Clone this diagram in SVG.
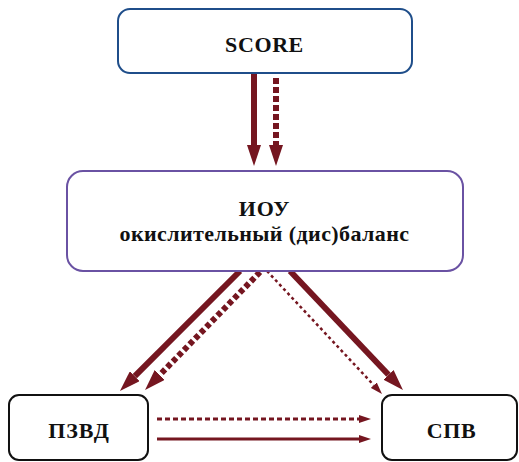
<svg xmlns="http://www.w3.org/2000/svg" width="519" height="462" viewBox="0 0 519 462">
<style>
.box{fill:#fff;stroke-width:2}
.t{font-family:"Liberation Serif","Times New Roman",serif;font-weight:bold;fill:#111;text-anchor:middle}
.c{fill:none;stroke:#751620}
</style>
<defs>
<marker id="big" viewBox="0 -7 21 14" markerUnits="userSpaceOnUse" markerWidth="21" markerHeight="14" refX="0" refY="0" orient="auto">
<path d="M0,-7 L21,0 L0,7 z" fill="#751620"/>
</marker>
<marker id="small" viewBox="0 -4 12 8" markerUnits="userSpaceOnUse" markerWidth="12" markerHeight="8" refX="0" refY="0" orient="auto">
<path d="M0,-4 L12,0 L0,4 z" fill="#751620"/>
</marker>
</defs>
<rect width="519" height="462" fill="#fff"/>
<g id="connectors">
<line class="c" x1="254" y1="73" x2="254" y2="145" stroke-width="6" marker-end="url(#big)"/>
<line class="c" x1="276" y1="78" x2="276" y2="145" stroke-width="6" stroke-dasharray="6,3" marker-end="url(#big)"/>
<line class="c" x1="240" y1="271" x2="134.8" y2="376.2" stroke-width="6" marker-end="url(#big)"/>
<line class="c" x1="260" y1="272" x2="159.7" y2="375" stroke-width="6" stroke-dasharray="5,3" marker-end="url(#big)"/>
<line class="c" x1="267" y1="271" x2="373.8" y2="385.2" stroke-width="2.5" stroke-dasharray="3,3" marker-end="url(#small)"/>
<line class="c" x1="290" y1="271" x2="388.5" y2="374.8" stroke-width="6" marker-end="url(#big)"/>
<line class="c" x1="157" y1="419" x2="359" y2="419" stroke-width="3" stroke-dasharray="5,3" marker-end="url(#small)"/>
<line class="c" x1="157" y1="439" x2="359" y2="439" stroke-width="3" marker-end="url(#small)"/>
</g>
<g id="score">
<rect class="box" x="118" y="9" width="294" height="64" rx="12" stroke="#1f4e8a"/>
<text class="t" x="264.5" y="52" font-size="22" letter-spacing="0.6">SCORE</text>
</g>
<g id="iou">
<rect class="box" x="67" y="171" width="396" height="100" rx="16" stroke="#6a52a3"/>
<text class="t" x="264.5" y="216" font-size="22" letter-spacing="0.8">ИОУ</text>
<text class="t" x="264.5" y="241" font-size="22" letter-spacing="0.4">окислительный (дис)баланс</text>
</g>
<g id="pzvd">
<rect class="box" x="9" y="395" width="139" height="65" rx="10" stroke="#111"/>
<text class="t" x="79" y="438" font-size="22" letter-spacing="1">ПЗВД</text>
</g>
<g id="spv">
<rect class="box" x="382" y="395" width="135" height="65" rx="10" stroke="#111"/>
<text class="t" x="451.5" y="438" font-size="22" letter-spacing="0.6">СПВ</text>
</g>
</svg>
